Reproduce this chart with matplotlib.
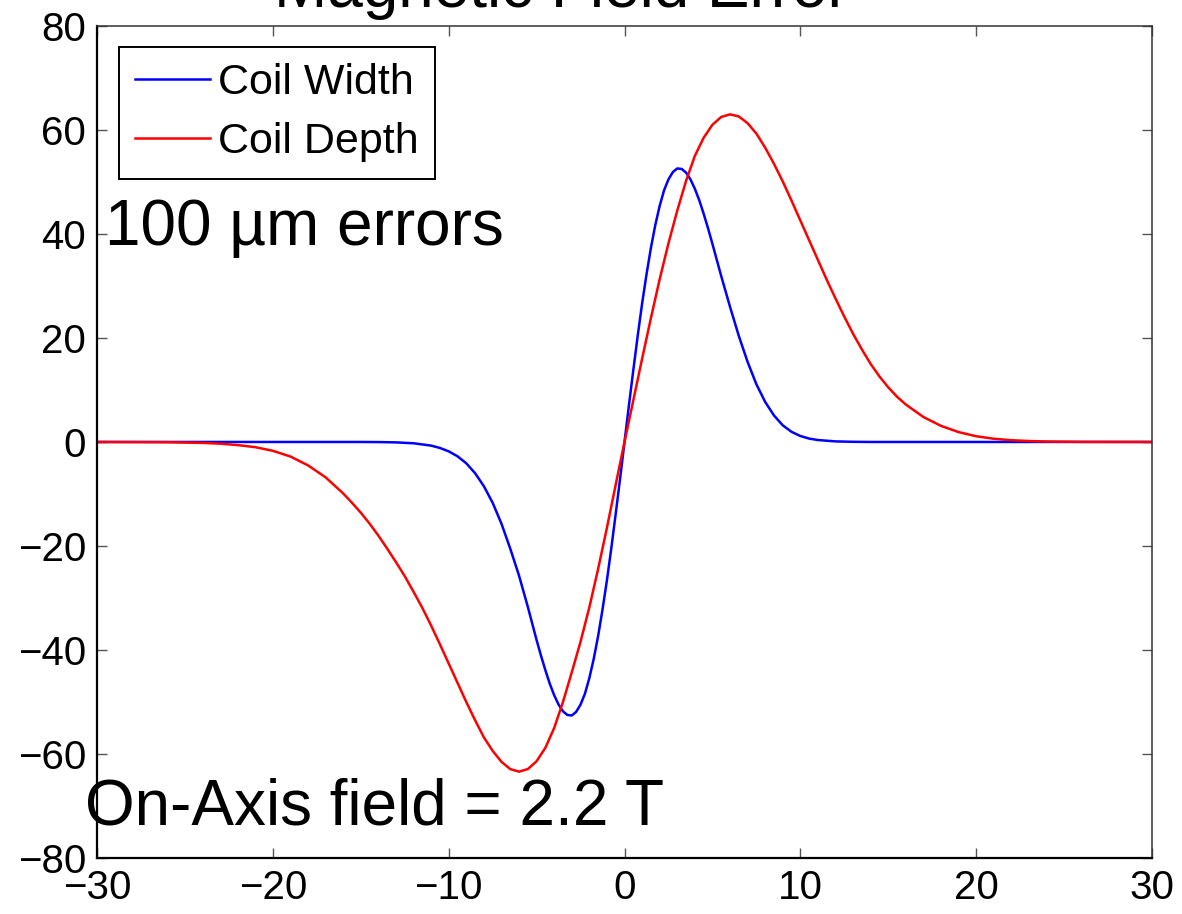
import matplotlib
matplotlib.use("Agg")
import matplotlib.pyplot as plt

plt.rcParams['font.family'] = ['Liberation Sans', 'DejaVu Sans']
plt.rcParams['axes.unicode_minus'] = True

# Field error along the axis for a 100 um coil-width error
width_z = [-30, -15, -14, -13, -12, -11, -10.5, -10, -9.5, -9, -8.5, -8, -7.5,
           -7, -6.5, -6, -5.5, -5, -4.75, -4.5, -4.25, -4, -3.75, -3.5, -3.25,
           -3, -2.75, -2.5, -2.25, -2, -1.75, -1.5, -1.25, -1, -0.75, -0.5,
           -0.25, 0, 0.25, 0.5, 0.75, 1, 1.25, 1.5, 1.75, 2, 2.25, 2.5, 2.75,
           3, 3.25, 3.5, 3.75, 4, 4.25, 4.5, 4.75, 5, 5.5, 6, 6.5, 7, 7.5, 8,
           8.5, 9, 9.5, 10, 10.5, 11, 12, 13, 14, 30]
width_err = [0, 0, -0.02, -0.08, -0.25, -0.7, -1.15, -1.8, -2.75, -4.1, -6.0,
             -8.5, -11.7, -15.7, -20.5, -25.7, -31.7, -38.1, -41.1, -43.9,
             -46.5, -48.7, -50.5, -51.8, -52.5, -52.6, -51.9, -50.5, -48.4,
             -45.4, -41.7, -37.3, -32.2, -26.6, -20.4, -13.8, -7.0, 0,
             7.0, 13.8, 20.4, 26.6, 32.2, 37.3, 41.7, 45.4, 48.4, 50.5, 51.9,
             52.6, 52.5, 51.8, 50.5, 48.7, 46.5, 43.9, 41.1, 38.1, 31.9, 26.0,
             20.4, 15.4, 11.1, 7.7, 5.1, 3.2, 1.95, 1.15, 0.65, 0.37, 0.11,
             0.03, 0, 0]

# Field error along the axis for a 100 um coil-depth error
depth_z = [-30, -26, -24, -23, -22, -21, -20, -19, -18, -17, -16, -15.5, -15,
           -14.5, -14, -13.5, -13, -12.5, -12, -11.5, -11, -10.5, -10, -9.5,
           -9, -8.5, -8, -7.5, -7, -6.5, -6, -5.5, -5, -4.5, -4, -3.5, -3,
           -2.5, -2, -1.5, -1, -0.5, 0, 0.5, 1, 1.5, 2, 2.5, 3, 3.5, 4, 4.5,
           5, 5.5, 6, 6.5, 7, 7.5, 8, 8.5, 9, 9.5, 10, 10.5, 11, 11.5, 12,
           12.5, 13, 13.5, 14, 14.5, 15, 15.5, 16, 17, 18, 19, 20, 21, 22, 23,
           24, 26, 30]
depth_err = [0, -0.05, -0.18, -0.33, -0.6, -1.0, -1.7, -2.8, -4.5, -6.8, -9.9,
             -11.7, -13.6, -15.7, -18.0, -20.5, -23.1, -25.8, -28.8, -31.9,
             -35.3, -38.9, -42.6, -46.3, -50.0, -53.5, -56.8, -59.4, -61.5,
             -62.9, -63.4, -62.9, -61.4, -58.8, -55.0, -50.0, -44.3, -38.4,
             -31.8, -24.4, -16.5, -8.2, 0, 8.0, 16.0, 23.8, 31.3, 38.2, 44.5,
             50.2, 55.0, 58.5, 61.0, 62.5, 63.0, 62.6, 61.3, 59.3, 56.6, 53.5,
             50.1, 46.4, 42.6, 38.8, 35.0, 31.2, 27.6, 24.1, 20.8, 17.8, 15.0,
             12.6, 10.5, 8.7, 7.2, 4.8, 3.1, 1.9, 1.1, 0.62, 0.34, 0.18, 0.09,
             0.02, 0]

x_ticks = [-30, -20, -10, 0, 10, 20, 30]
y_ticks = [-80, -60, -40, -20, 0, 20, 40, 60, 80]

fig = plt.figure(figsize=(11.82, 9.14), dpi=100)
ax = fig.add_axes([0.0821, 0.0613, 0.8925, 0.9103])

ax.plot(width_z, width_err, color='#0000ff', lw=1.8, label='Coil Width',
        solid_joinstyle='round')
ax.plot(depth_z, depth_err, color='#ff0000', lw=1.8, label='Coil Depth',
        solid_joinstyle='round')

ax.set_xlim(-30, 30)
ax.set_ylim(-80, 80)
ax.set_xticks(x_ticks)
ax.set_yticks(y_ticks)
ax.tick_params(direction='in', length=7.5, width=1.0, color='#555555',
               top=True, right=True, labelsize=29)
ax.tick_params(axis='y', pad=8)
ax.tick_params(axis='x', pad=8)
for side in ('left', 'bottom'):
    ax.spines[side].set_linewidth(1.6)
for side in ('top', 'right'):
    ax.spines[side].set_linewidth(1.1)
    ax.spines[side].set_color('#333333')

leg = ax.legend(loc='upper left', bbox_to_anchor=(0.0209, 0.975),
                borderaxespad=0, fontsize=31, handlelength=1.72,
                handletextpad=0.2, borderpad=0.38, labelspacing=0.45,
                fancybox=False, framealpha=1)
leg.get_frame().set_edgecolor('black')
leg.get_frame().set_linewidth(1.4)

ax.text(-29.55, 37.9, '100 µm errors', fontsize=46, va='baseline', ha='left')
ax.text(-30.69, -73.6, 'On-Axis field = 2.2 T', fontsize=46, va='baseline',
        ha='left', clip_on=False)

fig.text(561 / 1182, 1 - 7 / 914, 'Magnetic Field Error', fontsize=46,
         ha='center', va='baseline')

fig.savefig('out.png', dpi=100)
